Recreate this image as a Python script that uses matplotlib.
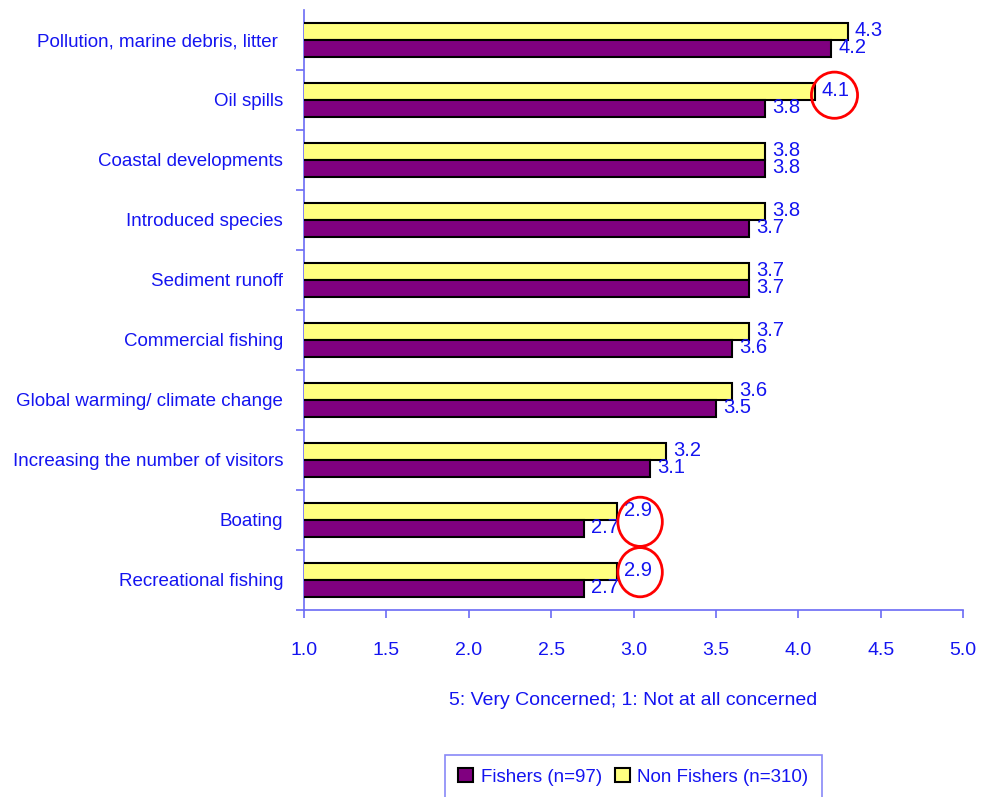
import matplotlib
matplotlib.use("Agg")
import matplotlib.pyplot as plt
from matplotlib.patches import Ellipse
import numpy as np

plt.rcParams['font.family'] = ['Liberation Sans', 'DejaVu Sans']

categories = ['Pollution, marine debris, litter ', 'Oil spills', 'Coastal developments',
              'Introduced species', 'Sediment runoff', 'Commercial fishing',
              'Global warming/ climate change', 'Increasing the number of visitors',
              'Boating', 'Recreational fishing']
fishers = [4.2, 3.8, 3.8, 3.7, 3.7, 3.6, 3.5, 3.1, 2.7, 2.7]
non_fishers = [4.3, 4.1, 3.8, 3.8, 3.7, 3.7, 3.6, 3.2, 2.9, 2.9]
circled = ['Oil spills', 'Boating', 'Recreational fishing']

blue = '#1414f0'
axis_blue = '#6b6bf5'

fig = plt.figure(figsize=(9.83, 7.97), dpi=100)
ax = fig.add_axes([304/983, 1-610/797, 659/983, 600/797])

y = np.arange(len(categories))
h = 0.285
ax.barh(y - h/2, non_fishers, height=h, left=0, color='#ffff80', edgecolor='black', lw=1.5,
        label='Non Fishers (n=310)', zorder=3)
ax.barh(y + h/2, fishers, height=h, left=0, color='#800080', edgecolor='black', lw=1.5,
        label='Fishers (n=97)', zorder=3)

for i in range(len(categories)):
    ax.annotate(f'{non_fishers[i]:.1f}', (non_fishers[i], y[i] - h/2), xytext=(5, 1),
                textcoords='offset points', va='center', ha='left', color=blue, fontsize=14.5)
    ax.annotate(f'{fishers[i]:.1f}', (fishers[i], y[i] + h/2), xytext=(5, 1),
                textcoords='offset points', va='center', ha='left', color=blue, fontsize=14.5)

# red circles around highlighted labels
for i, c in enumerate(categories):
    if c in circled:
        if c == 'Oil spills':
            ax.add_patch(Ellipse((non_fishers[i] + 0.12, y[i] - 0.08), 0.28, 0.77,
                                 fill=False, ec='red', lw=2, zorder=5, clip_on=False))
        else:
            ax.add_patch(Ellipse((non_fishers[i] + 0.14, y[i] + (0.03 if c == 'Boating' else -0.13)),
                                 0.27, 0.82, fill=False, ec='red', lw=2, zorder=5, clip_on=False))

ax.set_xlim(1.0, 5.0)
ax.set_ylim(len(categories) - 0.5, -0.5)
ax.set_xticks(np.arange(1.0, 5.01, 0.5))
ax.set_xticklabels([f'{v:.1f}' for v in np.arange(1.0, 5.01, 0.5)])
ax.set_yticks(y)
ax.set_yticklabels(categories)
ax.set_yticks(np.arange(0.5, len(categories), 1.0), minor=True)

ax.tick_params(axis='y', which='major', length=0, pad=15, labelsize=13.5, labelcolor=blue)
ax.tick_params(axis='y', which='minor', length=6, color=axis_blue, width=1.2)
ax.tick_params(axis='x', length=6, color=axis_blue, width=1.2, pad=17, labelsize=14, labelcolor=blue)

for s in ['top', 'right']:
    ax.spines[s].set_visible(False)
for s in ['left', 'bottom']:
    ax.spines[s].set_color(axis_blue)
    ax.spines[s].set_linewidth(1.2)

ax.set_xlabel('5: Very Concerned; 1: Not at all concerned', color=blue, fontsize=14, labelpad=24)

handles, labels = ax.get_legend_handles_labels()
leg = fig.legend(handles[::-1], labels[::-1], loc='upper left', bbox_to_anchor=(445/983, 1-755/797),
                 borderaxespad=0, ncol=2, fontsize=13.5, frameon=True, fancybox=False,
                 handlelength=0.8, handleheight=0.8, handletextpad=0.4, columnspacing=0.7,
                 borderpad=0.7, labelcolor=blue)
leg.get_frame().set_edgecolor(axis_blue)
leg.get_frame().set_linewidth(1.2)

fig.savefig('out.png', dpi=100)
